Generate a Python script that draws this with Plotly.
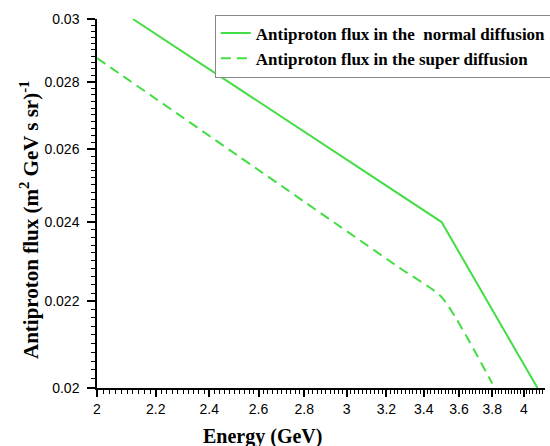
import numpy as np
import plotly.graph_objects as go

# Data
energy_normal = [2.12, 3.5, 4.09]
flux_normal = [0.0300, 0.0240, 0.0200]

energy_super = [2.0, 3.27, 3.5, 3.8]
flux_super = [0.02874, 0.02282, 0.0221, 0.0201]

x_ticks = [2, 2.2, 2.4, 2.6, 2.8, 3, 3.2, 3.4, 3.6, 3.8, 4]
x_ticklabels = ["2", "2.2", "2.4", "2.6", "2.8", "3", "3.2", "3.4", "3.6", "3.8", "4"]
y_ticks = [0.02, 0.022, 0.024, 0.026, 0.028, 0.03]
y_ticklabels = ["0.02", "0.022", "0.024", "0.026", "0.028", "0.03"]

green = "#44dd44"
serif = "Liberation Serif, Times New Roman, serif"
sans = "Liberation Sans, Arial, sans-serif"

xr = [float(np.log10(2.0)), float(np.log10(4.14))]
yr = [float(np.log10(0.02)), float(np.log10(0.03))]

fig = go.Figure()
fig.add_trace(go.Scatter(
    x=energy_normal, y=flux_normal, mode="lines",
    name="<b>Antiproton flux in the  normal diffusion</b>",
    line=dict(color=green, width=2)))
fig.add_trace(go.Scatter(
    x=energy_super, y=flux_super, mode="lines",
    name="<b>Antiproton flux in the super diffusion</b>",
    line=dict(color=green, width=2, dash="10px,6px", shape="spline", smoothing=0.6)))

# minor tick positions (log10 units, for linear overlay axes)
x_minor = [float(np.log10(v)) for v in np.arange(2.0, 4.14, 0.02)]
y_minor = [float(np.log10(v)) for v in np.arange(0.0200, 0.03001, 0.0002)]

fig.update_layout(
    width=550, height=446,
    margin=dict(l=97, r=5, t=19, b=58, autoexpand=False),
    paper_bgcolor="white", plot_bgcolor="white",
    showlegend=True,
    legend=dict(x=0.263, y=1.012, xanchor="left", yanchor="top",
                bordercolor="#888888", borderwidth=1, bgcolor="white",
                font=dict(family=serif, size=17, color="black"),
                tracegroupgap=0, itemwidth=30),
    xaxis=dict(type="log", range=xr,
               tickmode="array", tickvals=x_ticks, ticktext=x_ticklabels,
               ticks="outside", ticklen=7, tickwidth=1.5, tickcolor="black",
               showline=True, linecolor="black", linewidth=1.5,
               showgrid=False, zeroline=False,
               tickfont=dict(family=sans, size=14, color="black")),
    yaxis=dict(type="log", range=yr,
               tickmode="array", tickvals=y_ticks, ticktext=y_ticklabels,
               ticks="outside", ticklen=8, tickwidth=1.5, tickcolor="black",
               showline=True, linecolor="black", linewidth=1.5,
               showgrid=False, zeroline=False, ticklabelstandoff=5,
               tickfont=dict(family=sans, size=14, color="black")),
    # overlay axes carrying the minor ticks
    xaxis2=dict(type="linear", range=xr, overlaying="x", anchor="y", side="bottom",
                tickmode="array", tickvals=x_minor, showticklabels=False,
                ticks="outside", ticklen=5, tickwidth=1.2, tickcolor="black",
                showline=False, showgrid=False, zeroline=False),
    yaxis2=dict(type="linear", range=yr, overlaying="y", anchor="x", side="left",
                tickmode="array", tickvals=y_minor, showticklabels=False,
                ticks="outside", ticklen=5, tickwidth=1.2, tickcolor="black",
                showline=False, showgrid=False, zeroline=False),
)

# invisible trace to activate the overlay axes
fig.add_trace(go.Scatter(x=[xr[0]], y=[yr[0]], xaxis="x2", yaxis="y2",
                         mode="markers", marker=dict(opacity=0), showlegend=False,
                         hoverinfo="skip"))

fig.add_annotation(
    text="<b>Energy (GeV)</b>", xref="paper", yref="paper",
    x=(262 - 97) / 448, y=-(436 - 388) / 369, xanchor="center", yanchor="middle",
    showarrow=False, font=dict(family=serif, size=20, color="black"))
fig.add_annotation(
    text="<b>Antiproton flux (m<sup>2</sup> GeV s sr)<sup>-1</sup></b>",
    xref="paper", yref="paper",
    x=-(97 - 29) / 448, y=(388 - 220) / 369, xanchor="center", yanchor="middle",
    textangle=-90, showarrow=False, font=dict(family=serif, size=21, color="black"))

fig.write_html("out.html")
